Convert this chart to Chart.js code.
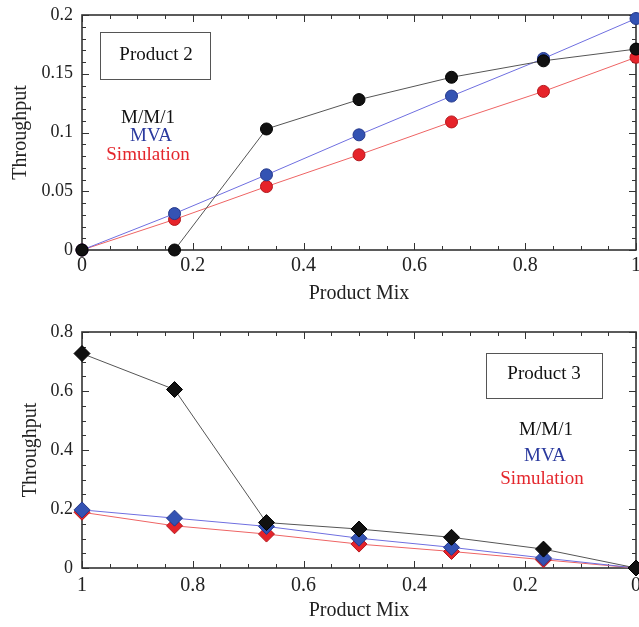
<!DOCTYPE html>
<html>
<head>
<meta charset="utf-8">
<script src="https://cdn.jsdelivr.net/npm/chart.js@4/dist/chart.umd.min.js"></script>
<style>
  html, body { margin: 0; padding: 0; background: #fff; }
  #wrap { position: relative; width: 639px; height: 627px; }
  .panel { position: absolute; left: 0; }
</style>
</head>
<body>
<div id="wrap">
  <canvas id="top" class="panel" width="639" height="310" style="top:0"></canvas>
  <canvas id="bottom" class="panel" width="639" height="317" style="top:310px"></canvas>
</div>
<script>
// product mix values (x) for each panel
const mixP2 = [0, 0.167, 0.333, 0.5, 0.667, 0.833, 1];
const mixP3 = [1, 0.833, 0.667, 0.5, 0.333, 0.167, 0];

// Product 2 throughput
const p2Mm1 = [0, 0, 0.103, 0.128, 0.147, 0.161, 0.171];
const p2Mva = [0, 0.031, 0.064, 0.098, 0.131, 0.163, 0.197];
const p2Sim = [0, 0.026, 0.054, 0.081, 0.109, 0.135, 0.164];

// Product 3 throughput
const p3Mm1 = [0.727, 0.605, 0.154, 0.132, 0.104, 0.064, 0];
const p3Mva = [0.197, 0.169, 0.141, 0.101, 0.070, 0.034, 0];
const p3Sim = [0.189, 0.143, 0.115, 0.081, 0.056, 0.028, 0];

const seriesNames = ['M/M/1', 'MVA', 'Simulation'];

const SERIF = '"Liberation Serif", "Times New Roman", serif';
const AXIS = '#333';

const style = {
  'M/M/1':      { line: '#555', fill: '#111', border: '#000', text: '#111' },
  'MVA':        { line: '#6f6fe0', fill: '#3453b3', border: '#24378a', text: '#2b3a9e' },
  'Simulation': { line: '#ee6464', fill: '#e6232a', border: '#b3171c', text: '#e4262c' }
};

function pts(xs, ys) {
  return xs.map((x, i) => ({ x, y: ys[i] }));
}

// plain labels: 0, 0.05, 0.1 ... 1 (no padded zeros)
const plain = (v) => String(+Number(v).toFixed(3));

function makeSets(xs, lists, shape, radius) {
  return lists.map((ys, i) => {
    const s = style[seriesNames[i]];
    return {
      label: seriesNames[i],
      data: pts(xs, ys),
      showLine: true,
      borderColor: s.line,
      borderWidth: 1,
      pointStyle: shape,
      pointRadius: radius,
      pointBackgroundColor: s.fill,
      pointBorderColor: s.border,
      pointBorderWidth: 1,
      clip: false
    };
  });
}

// frame, inward ticks on all four sides, label box and series key
const framePlugin = {
  id: 'frame',
  beforeDatasetsDraw(chart, args, o) {
    const { ctx, chartArea: a, scales } = chart;
    ctx.save();
    ctx.strokeStyle = AXIS;
    ctx.lineWidth = 1;
    const marks = (scale, step, len, horiz) => {
      for (let v = scale.min; v <= scale.max + 1e-9; v += step) {
        const p = Math.round(scale.getPixelForValue(v)) + 0.5;
        ctx.beginPath();
        if (horiz) {
          ctx.moveTo(p, a.bottom); ctx.lineTo(p, a.bottom - len);
          ctx.moveTo(p, a.top); ctx.lineTo(p, a.top + len);
        } else {
          ctx.moveTo(a.left, p); ctx.lineTo(a.left + len, p);
          ctx.moveTo(a.right, p); ctx.lineTo(a.right - len, p);
        }
        ctx.stroke();
      }
    };
    marks(scales.x, o.xMinor, 4, true);
    marks(scales.x, o.xMajor, 7, true);
    marks(scales.y, o.yMinor, 4, false);
    marks(scales.y, o.yMajor, 7, false);
    ctx.lineWidth = 1.6;
    ctx.strokeRect(a.left, a.top, a.right - a.left, a.bottom - a.top);
    ctx.restore();
  },
  afterDraw(chart, args, o) {
    const ctx = chart.ctx;
    ctx.save();
    const b = o.box;
    ctx.strokeStyle = '#555';
    ctx.lineWidth = 1;
    ctx.strokeRect(b.x + 0.5, b.y + 0.5, b.w, b.h);
    ctx.font = '19px ' + SERIF;
    ctx.textAlign = 'center';
    ctx.textBaseline = 'middle';
    ctx.fillStyle = '#111';
    ctx.fillText(b.text, b.tx, b.ty);
    o.key.forEach((k, i) => {
      ctx.fillStyle = style[seriesNames[i]].text;
      ctx.fillText(seriesNames[i], k[0], k[1]);
    });
    ctx.restore();
  }
};

function axisFit(width, height) {
  return {
    y: (s) => { s.width = width; s.paddingTop = 0; s.paddingBottom = 0; },
    x: (s) => { s.height = height; s.paddingLeft = 0; s.paddingRight = 0; }
  };
}

function buildChart(id, cfg) {
  const fit = axisFit(82, cfg.xHeight);
  return new Chart(document.getElementById(id), {
    type: 'scatter',
    data: { datasets: cfg.datasets },
    options: {
      responsive: false,
      animation: false,
      devicePixelRatio: 1,
      layout: { autoPadding: false, padding: { top: cfg.padTop, right: 3, left: 0, bottom: 0 } },
      plugins: {
        legend: { display: false },
        tooltip: { enabled: false },
        frame: cfg.frame
      },
      scales: {
        x: {
          type: 'linear',
          min: 0, max: 1,
          reverse: cfg.reverse,
          afterFit: fit.x,
          grid: { display: false, drawTicks: false },
          border: { display: false },
          ticks: { stepSize: 0.2, padding: cfg.xPad, color: '#222', callback: plain,
                   font: { family: SERIF, size: 20 } },
          title: { display: true, text: 'Product Mix', color: '#222', padding: { top: 0, bottom: 4 },
                   font: { family: SERIF, size: 20 } }
        },
        y: {
          min: 0, max: cfg.yMax,
          afterFit: fit.y,
          grid: { display: false, drawTicks: false },
          border: { display: false },
          ticks: { stepSize: cfg.yStep, padding: 9, color: '#222', callback: plain,
                   font: { family: SERIF, size: 18 } },
          title: { display: true, text: 'Throughput', color: '#222', padding: { top: cfg.yTitlePad, bottom: 0 },
                   font: { family: SERIF, size: 20 } }
        }
      }
    },
    plugins: [framePlugin]
  });
}

buildChart('top', {
  datasets: makeSets(mixP2, [p2Mm1, p2Mva, p2Sim], 'circle', 6),
  reverse: false,
  padTop: 15, xHeight: 60, xPad: 4,
  yMax: 0.2, yStep: 0.05, yTitlePad: 9,
  frame: {
    xMajor: 0.2, xMinor: 0.05, yMajor: 0.05, yMinor: 0.01,
    box: { x: 100, y: 32, w: 110, h: 47, text: 'Product 2', tx: 156, ty: 55 },
    key: [[148, 118], [151, 136], [148, 155]]
  }
});

buildChart('bottom', {
  datasets: makeSets(mixP3, [p3Mm1, p3Mva, p3Sim], 'rectRot', 8),
  reverse: true,
  padTop: 22, xHeight: 59, xPad: 6,
  yMax: 0.8, yStep: 0.2, yTitlePad: 19,
  frame: {
    xMajor: 0.2, xMinor: 0.05, yMajor: 0.2, yMinor: 0.05,
    box: { x: 486, y: 43, w: 116, h: 45, text: 'Product 3', tx: 544, ty: 64 },
    key: [[546, 120], [545, 146], [542, 169]]
  }
});
</script>
</body>
</html>
